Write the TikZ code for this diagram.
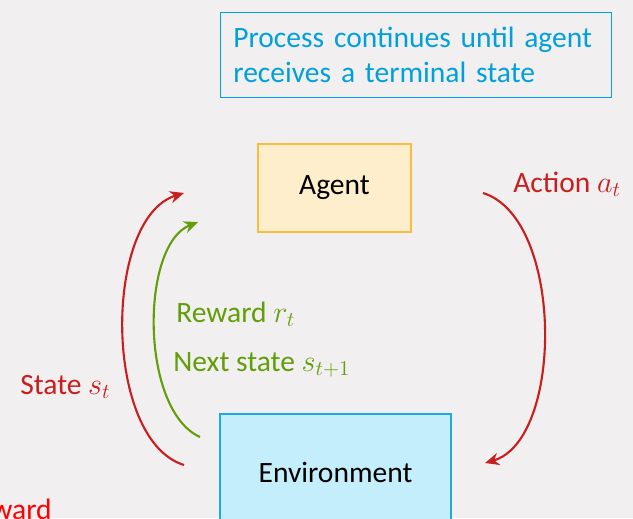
\documentclass[tikz,border=0pt]{standalone}
\usepackage{fontspec}
\setmainfont{Carlito}
\usetikzlibrary{arrows.meta}
\definecolor{paper}{RGB}{241,239,240}
\definecolor{skyline}{RGB}{0,160,220}
\definecolor{agentfill}{RGB}{255,238,204}
\definecolor{agentline}{RGB}{246,190,60}
\definecolor{envfill}{RGB}{197,238,252}
\definecolor{envline}{RGB}{30,170,225}
\definecolor{loopred}{RGB}{200,30,30}
\definecolor{loopgreen}{RGB}{98,158,10}
\begin{document}
\begin{tikzpicture}[x=0.02cm,y=-0.02cm,font=\fontsize{16.8}{19.5}\selectfont,
  note/.style={draw=skyline,thin,text=skyline,anchor=north west,align=left,minimum width=7.74cm,minimum height=1.7cm,text width=7.3cm,inner xsep=0.26cm},
  agentbox/.style={draw=agentline,thick,fill=agentfill,minimum width=3.06cm,minimum height=1.76cm},
  envbox/.style={draw=envline,thick,fill=envfill,minimum width=4.62cm,minimum height=2.32cm},
  lbl/.style={anchor=base west,inner sep=0pt},
  loop/.style={line width=1.2pt,-{Stealth[length=8pt,width=7pt]}}]
  \clip (0,0) rectangle (633,518);
  \fill[paper] (0,0) rectangle (633,518);
  \node[note] (goal) at (220,12){Process continues until agent\\receives a terminal state};
  \node[agentbox] (agent) at (334.5,188){Agent};
  \node[envbox] (env) at (335.5,472){Environment};
  % ends of the three arcs
  \coordinate (sout) at (184,465);
  \coordinate (sin) at (184,193);
  \coordinate (rout) at (200,437);
  \coordinate (rin) at (198,222);
  \coordinate (aout) at (483,193);
  \coordinate (ain) at (485,463);
  \draw[loop,loopred] (sout) .. controls (103,440) and (103,218) .. (sin);
  \draw[loop,loopgreen] (rout) .. controls (140,410) and (140,245) .. (rin);
  \draw[loop,loopred] (aout) .. controls (564,218) and (564,440) .. (ain);
  \node[lbl,text=loopred] (act) at (513,192){Action $a_t$};
  \node[lbl,text=loopred] (st) at (20,394){State $s_t$};
  \node[lbl,text=loopgreen] (rew) at (176,322){Reward $r_t$};
  \node[lbl,text=loopgreen] (nxt) at (173,371){Next state $s_{t+1}$};
  \node[anchor=base east,inner sep=0pt,text=red] (cut) at (52,519){Reward};
\end{tikzpicture}
\end{document}
